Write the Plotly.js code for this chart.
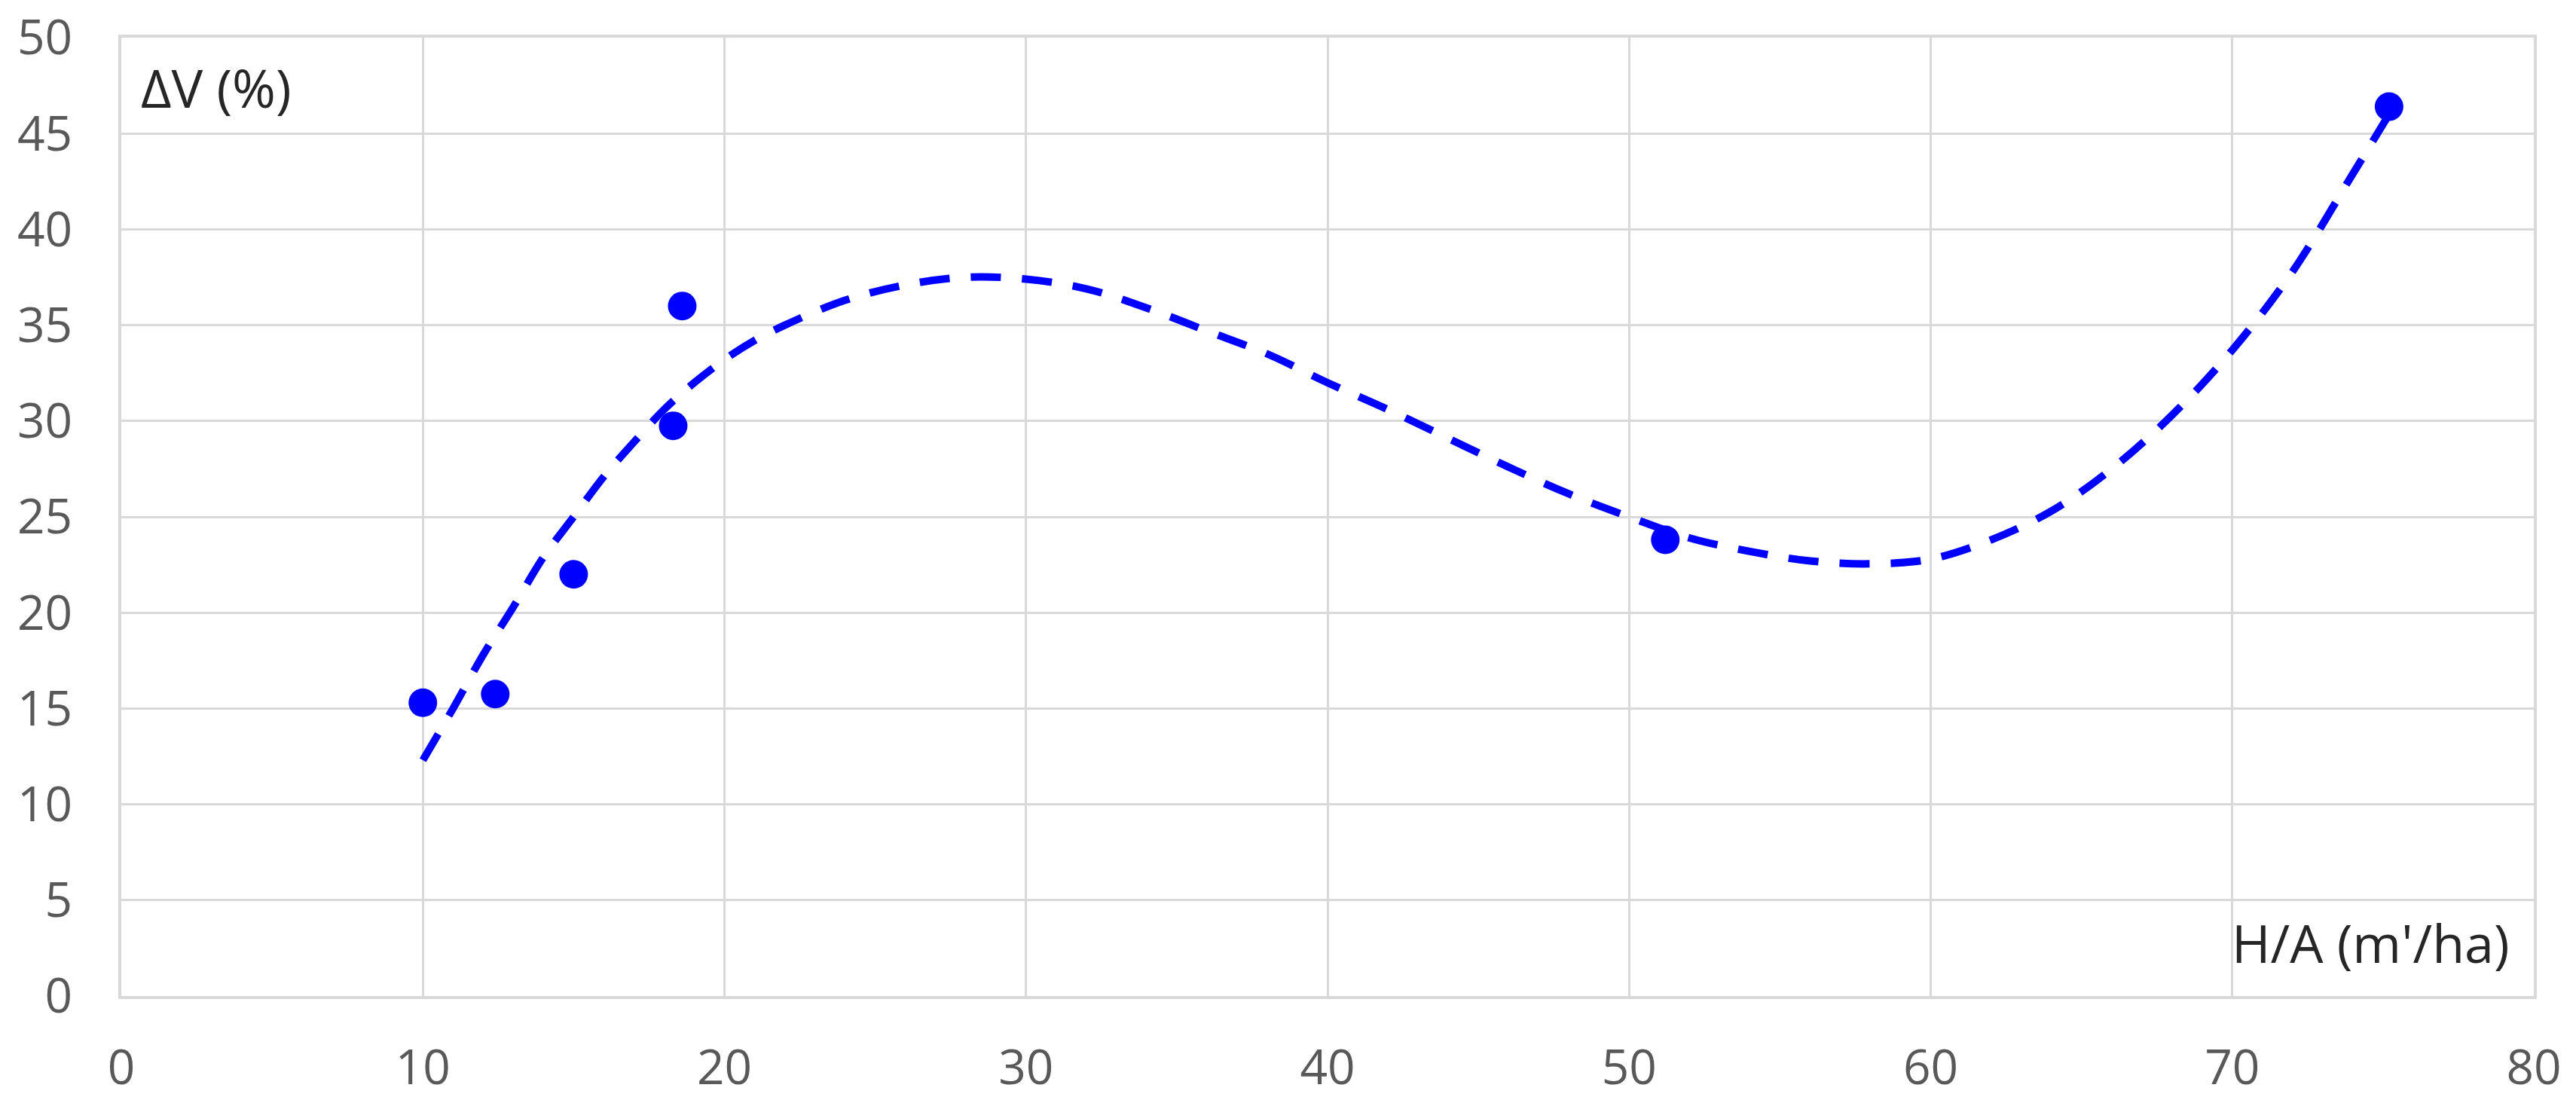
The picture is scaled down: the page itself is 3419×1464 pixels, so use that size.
<!DOCTYPE html>
<html>
<head>
<meta charset="utf-8">
<script src="https://cdn.plot.ly/plotly-3.0.1.min.js"></script>
<style>
  html, body { margin: 0; padding: 0; background: #fff; }
  #chart { width: 3419px; height: 1464px; }
</style>
</head>
<body>
<div id="chart"></div>
<script>
// measured points (H/A vs ΔV)
const pointsX = [10.0, 12.4, 15.0, 18.3, 18.6, 51.2, 75.2];
const pointsY = [15.3, 15.75, 22.0, 29.75, 36.0, 23.8, 46.4];

// polynomial trendline
const trendX = [10, 11, 12, 13, 14, 15, 16, 17, 18, 19, 20, 21, 22, 24, 26, 28, 30, 32, 34, 36, 38, 40,
                42, 44, 46, 48, 50, 52, 54, 56, 58, 60, 62, 64, 66, 68, 70, 72, 74, 75.2];
const trendY = [12.3, 15.0, 17.8, 20.3, 22.9, 25.0, 27.1, 28.9, 30.6, 32.0, 33.2, 34.2, 35.0, 36.3, 37.1, 37.5, 37.4, 36.9, 35.9, 34.7, 33.5, 32.0,
                30.6, 29.1, 27.6, 26.2, 25.0, 23.9, 23.2, 22.7, 22.55, 22.8, 23.8, 25.3, 27.5, 30.3, 33.7, 37.8, 42.9, 46.0];

const xTicks = [0, 10, 20, 30, 40, 50, 60, 70, 80];
const yTicks = [0, 5, 10, 15, 20, 25, 30, 35, 40, 45, 50];

const blue = '#0000ff';
const gridCol = '#d9d9d9';
const fontFam = 'Open Sans, Noto Sans, sans-serif';
const tickFont = { family: fontFam, size: 64, color: '#595959' };

const traces = [
    {
        x: trendX,
        y: trendY,
        type: 'scatter',
        mode: 'lines',
        line: { color: blue, width: 10, dash: '40px,28px', shape: 'spline' },
        hoverinfo: 'none'
    },
    {
        x: pointsX,
        y: pointsY,
        type: 'scatter',
        mode: 'markers',
        marker: { color: blue, size: 38 }
    }
];

const layout = {
    width: 3419,
    height: 1464,
    showlegend: false,
    paper_bgcolor: '#ffffff',
    plot_bgcolor: '#ffffff',
    margin: { l: 161, r: 56, t: 50, b: 142 },
    xaxis: {
        range: [0, 80],
        tickvals: xTicks,
        ticktext: xTicks.map(String),
        showgrid: true,
        gridcolor: gridCol,
        gridwidth: 3,
        zeroline: false,
        showline: true,
        mirror: true,
        linecolor: gridCol,
        linewidth: 4,
        ticks: '',
        ticklabelstandoff: 36,
        tickfont: tickFont
    },
    yaxis: {
        range: [0, 50],
        tickvals: yTicks,
        ticktext: yTicks.map(String),
        showgrid: true,
        gridcolor: gridCol,
        gridwidth: 3,
        zeroline: false,
        showline: true,
        mirror: true,
        linecolor: gridCol,
        linewidth: 4,
        ticks: '',
        ticklabelstandoff: 48,
        tickfont: tickFont
    },
    annotations: [
        {
            text: 'ΔV (%)',
            xref: 'paper', yref: 'paper',
            x: 0.0075, y: 0.948,
            xanchor: 'left', yanchor: 'middle',
            showarrow: false,
            font: { family: fontFam, size: 70, color: '#262626' }
        },
        {
            text: "H/A (m'/ha)",
            xref: 'paper', yref: 'paper',
            x: 0.9906, y: 0.056,
            xanchor: 'right', yanchor: 'middle',
            showarrow: false,
            font: { family: fontFam, size: 70, color: '#262626' }
        }
    ]
};

Plotly.newPlot('chart', traces, layout, { displayModeBar: false, responsive: false });
</script>
</body>
</html>
